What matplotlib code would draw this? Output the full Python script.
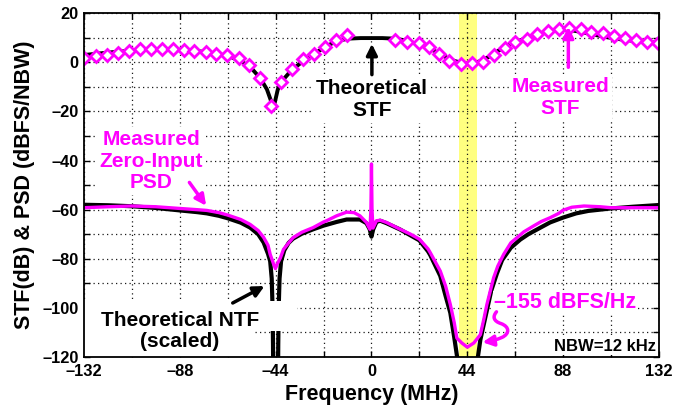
import matplotlib
matplotlib.use("Agg")
import matplotlib.pyplot as plt
from matplotlib.patches import Rectangle, FancyArrowPatch
from matplotlib.path import Path
from matplotlib.ticker import MultipleLocator

plt.rcParams['font.family'] = ['Liberation Sans', 'DejaVu Sans']
plt.rcParams['font.weight'] = 'bold'

MAGENTA = '#FF00FF'

# ---- Signal transfer function (dB) ----
stf_theory_f = [-132, -121, -110, -100, -92, -85, -78, -70, -64, -59, -55, -51, -48, -46,
                -45.2, -44.3, -43, -41, -38, -35, -31, -27, -22, -18, -14, -10, -5, 0, 5,
                10, 14, 18, 22, 26, 30, 34, 38, 42, 44, 47, 50, 54, 58, 62, 66, 71, 76,
                81, 86, 90, 95, 100, 106, 111, 116, 121, 126, 132]
stf_theory_db = [3.0, 4.0, 4.8, 5.3, 5.3, 5.0, 4.4, 3.4, 2.0, 0.0, -2.5, -6.5, -11, -16,
                 -19, -16, -11, -7.5, -4.5, -2, 0.8, 3.2, 5.8, 7.8, 9.1, 9.7, 9.9, 9.9, 9.9,
                 9.7, 9.2, 8.3, 7.2, 5.9, 4.2, 2.2, 0.6, -0.3, -0.5, -0.2, 0.5, 2.3, 4.6,
                 6.6, 8.3, 9.8, 11.4, 12.6, 13.2, 13.3, 12.6, 11.7, 10.6, 9.8, 9.2, 8.7,
                 8.3, 8.0]

stf_meas_f = [-132, -126.6, -121.3, -116.2, -111.3, -106.2, -101.3, -96.2, -91.3, -86.3,
              -81.3, -76.2, -71.3, -66.2, -61, -56, -51, -46, -41.5, -36.4, -31.5, -26.6,
              -21.5, -16.2, -11.3,
              10.8, 16.2, 21.6, 26.6, 31.2, 35.8, 41.1, 46.2, 51.2, 56.1, 61.2, 66.1,
              71.2, 76.1, 81.2, 86.1, 90.7, 96.1, 101, 106.1, 111.2, 116.4, 121.4, 126.5,
              131.4]
stf_meas_db = [1.6, 2.5, 3.2, 3.9, 4.6, 5.3, 5.4, 5.4, 5.3, 5.0, 4.7, 4.3, 3.6, 2.9, 1.6,
               -1.2, -6.2, -17.9, -8.0, -2.5, 1.2, 3.6, 6.4, 9.1, 11.1,
               9.1, 8.4, 7.7, 6.4, 3.6, 0.5, -0.7, -0.2, 0.2, 2.9, 5.7, 8.4, 9.4, 11.4,
               12.9, 13.4, 13.9, 13.4, 12.5, 11.8, 10.7, 9.8, 9.1, 8.4, 8.0]

# ---- Noise transfer function (scaled) and measured zero-input PSD ----
ntf_f = [-132, -121, -110, -99, -88, -80, -75.6, -70, -66, -60, -55.7, -52, -49.5, -47.5,
         -46.5, -45.8, -45.4, -45.2, -45.1, -44, -42.9, -42.8, -42.6, -42.2, -41.5, -40,
         -38, -36, -32, -26.8, -22, -16, -11.4, -5.3, -2.3, -0.8, 0, 0.8, 2.3, 4, 6.9,
         13, 18, 22, 26, 27, 31.6, 34, 36.2, 38, 39.5, 41, 44, 47, 48.7, 50, 51.5, 53,
         55, 57.6, 60, 64, 68.3, 72, 77.6, 82, 88, 94, 99.6, 110, 120, 132]
ntf_db = [-58, -58.2, -58.6, -59.3, -60.3, -61, -61.5, -62.5, -63.5, -65.3, -67.3, -70,
          -73.4, -78, -81, -88, -100, -115, -130, -200, -130, -115, -100, -88, -81, -76.5,
          -73.5, -71.8, -69.8, -68, -66.5, -65, -64, -64, -65.5, -68, -71, -68, -65,
          -64.5, -65.5, -68, -70.5, -72.5, -77, -78.5, -87, -95, -102, -112, -121, -140,
          -200, -140, -121, -113, -107, -101, -93, -86, -80.5, -75.5, -72.2, -70, -67.3,
          -65.2, -63.2, -61.5, -60.5, -59.5, -58.8, -58.1]

psd_f = [-132, -121, -110, -99, -88, -80, -75.6, -70, -66, -60, -55.7, -52, -49.5, -47.5,
         -46.5, -45, -44.1, -43.2, -41.8, -40.4, -38, -36, -32, -26.8, -22, -20.6, -16,
         -11.4, -8, -5.3, -2.3, -0.7, -0.25, 0, 0.25, 0.7, 2.3, 4, 6.9, 13, 18, 22, 26,
         27, 31.6, 34, 36.2, 38, 39.2, 41.5, 44, 47, 50, 51.5, 53, 56.1, 58, 60.7, 64,
         66.8, 70, 74.5, 78, 82.2, 86, 88, 92, 97.6, 105, 110, 120, 132]
psd_db = [-59.2, -58.8, -58.5, -58.8, -59.5, -60, -60.3, -61.2, -62.2, -64, -66, -68.5,
          -71.3, -74.5, -78.2, -82, -84, -82, -79.6, -76.2, -73.5, -71.4, -69.2, -67.3,
          -65, -64.5, -62.5, -61, -61.2, -62.5, -65.2, -68, -60, -41.4, -60, -67.5, -64.5,
          -64.3, -65.2, -67.9, -70, -72, -76, -77.5, -85, -91, -98.6, -106, -112.3,
          -114.3, -116, -114.3, -110.9, -105, -98.6, -87.7, -83, -78.2, -73.5, -71.4,
          -69, -66.6, -64.8, -63.2, -61.5, -60.2, -59, -58.5, -58.8, -59.2, -59.2, -59.2]

# ---- Axes ticks ----
x_ticks = [-132, -88, -44, 0, 44, 88, 132]
x_tick_labels = ['–132', '–88', '–44', '0', '44', '88', '132']
y_ticks = [20, 0, -20, -40, -60, -80, -100, -120]
y_tick_labels = ['20', '0', '–20', '–40', '–60', '–80', '–100', '–120']
band_f = [40, 48.5]

fig = plt.figure(figsize=(6.9, 4.15), dpi=100)
ax = fig.add_axes([0.1217, 0.1398, 0.8333, 0.8282])
ax.set_xlim(-132, 132)
ax.set_ylim(-120, 20)

# highlighted band around 44 MHz
ax.axvspan(band_f[0], band_f[1], color='#FFFF80', zorder=0.5, lw=0)

ax.plot(ntf_f, ntf_db, color='black', lw=3.0, zorder=2, solid_joinstyle='round')
ax.plot(psd_f, psd_db, color=MAGENTA, lw=2.4, zorder=2.2, solid_joinstyle='round')
ax.plot(stf_theory_f, stf_theory_db, color='black', lw=2.8, zorder=2)
ax.plot(stf_meas_f, stf_meas_db, linestyle='none', marker='D', ms=6.6,
        mfc='white', mec=MAGENTA, mew=2.0, zorder=3)

# grid and ticks
ax.xaxis.set_minor_locator(MultipleLocator(22))
ax.yaxis.set_minor_locator(MultipleLocator(10))
ax.set_xticks(x_ticks)
ax.set_xticklabels(x_tick_labels)
ax.set_yticks(y_ticks)
ax.set_yticklabels(y_tick_labels)
ax.grid(True, which='both', linestyle=(0, (1, 2.6)), color='#1a1a1a', lw=0.9)
ax.set_axisbelow(True)
ax.tick_params(which='both', direction='in', top=True, right=True, labelsize=11.8,
               length=4, width=1.0)
ax.tick_params(axis='x', pad=5)
ax.tick_params(axis='y', pad=4)
for lbl in ax.get_xticklabels() + ax.get_yticklabels():
    lbl.set_fontweight('bold')
for sp in ax.spines.values():
    sp.set_linewidth(1.3)
    sp.set_zorder(4)

ax.set_xlabel('Frequency (MHz)', fontsize=15.5, fontweight='bold', labelpad=4)
ax.set_ylabel('STF(dB) & PSD (dBFS/NBW)', fontsize=15.5, fontweight='bold', labelpad=5)

FS = 15
LS = 1.18
box = dict(facecolor='white', edgecolor='none', pad=2)
arrow_k = dict(arrowstyle='-|>', lw=2.5, mutation_scale=16, shrinkA=0, shrinkB=0)

ax.annotate('', xy=(0.2, 7.5), xytext=(0.2, -5.0),
            arrowprops=dict(color='black', **arrow_k), zorder=7)
ax.text(0.2, -15.2, 'Theoretical\nSTF', ha='center', va='center', fontsize=FS,
        fontweight='bold', color='black', linespacing=LS, bbox=box, zorder=6)

ax.annotate('', xy=(90.4, 14.5), xytext=(90.4, -2.0),
            arrowprops=dict(color=MAGENTA, **arrow_k), zorder=7)
ax.text(86.8, -14.4, 'Measured\nSTF', ha='center', va='center', fontsize=FS,
        fontweight='bold', color=MAGENTA, linespacing=LS, bbox=box, zorder=6)

ax.text(-101.1, -40.2, 'Measured\nZero-Input\nPSD', ha='center', va='center',
        fontsize=FS, fontweight='bold', color=MAGENTA, linespacing=LS,
        bbox=box, zorder=6)
ax.annotate('', xy=(-75.9, -58.4), xytext=(-83.6, -48.9),
            arrowprops=dict(color=MAGENTA, **arrow_k), zorder=7)

# white backing for the NTF label
ax.add_patch(Rectangle((-132, -109.4), 97.7, 12.4, facecolor='white',
                       edgecolor='none', zorder=3.5))
ax.add_patch(Rectangle((-132, -120), 77.4, 10.6, facecolor='white',
                       edgecolor='none', zorder=3.5))
ax.text(-88.0, -109.4, 'Theoretical NTF\n(scaled)', ha='center', va='center',
        fontsize=FS, fontweight='bold', color='black', linespacing=LS, zorder=6)
ax.annotate('', xy=(-49.1, -91.1), xytext=(-63.7, -98.0),
            arrowprops=dict(color='black', **arrow_k), zorder=7)

ax.text(89.1, -98.0, '–155 dBFS/Hz', ha='center', va='center', fontsize=15.5,
        fontweight='bold', color=MAGENTA, bbox=dict(facecolor='white', edgecolor='none', pad=1),
        zorder=6)
squiggle = Path([(57.4, -101.6), (55.5, -103.6), (56.0, -105.4), (59.5, -106.4),
                 (63.5, -107.7), (63.5, -110.5), (60.0, -112.0),
                 (57.5, -113.0), (54.5, -113.6), (51.0, -114.0)],
                [Path.MOVETO] + [Path.CURVE4] * 9)
ax.add_patch(FancyArrowPatch(path=squiggle, arrowstyle='-|>', color=MAGENTA, lw=2.5,
                             mutation_scale=16, zorder=7))

ax.text(130.6, -115.7, 'NBW=12 kHz', ha='right', va='center', fontsize=12,
        fontweight='bold', color='black',
        bbox=dict(facecolor='white', edgecolor='none', pad=1), zorder=6)

fig.savefig('out.png', dpi=100)
